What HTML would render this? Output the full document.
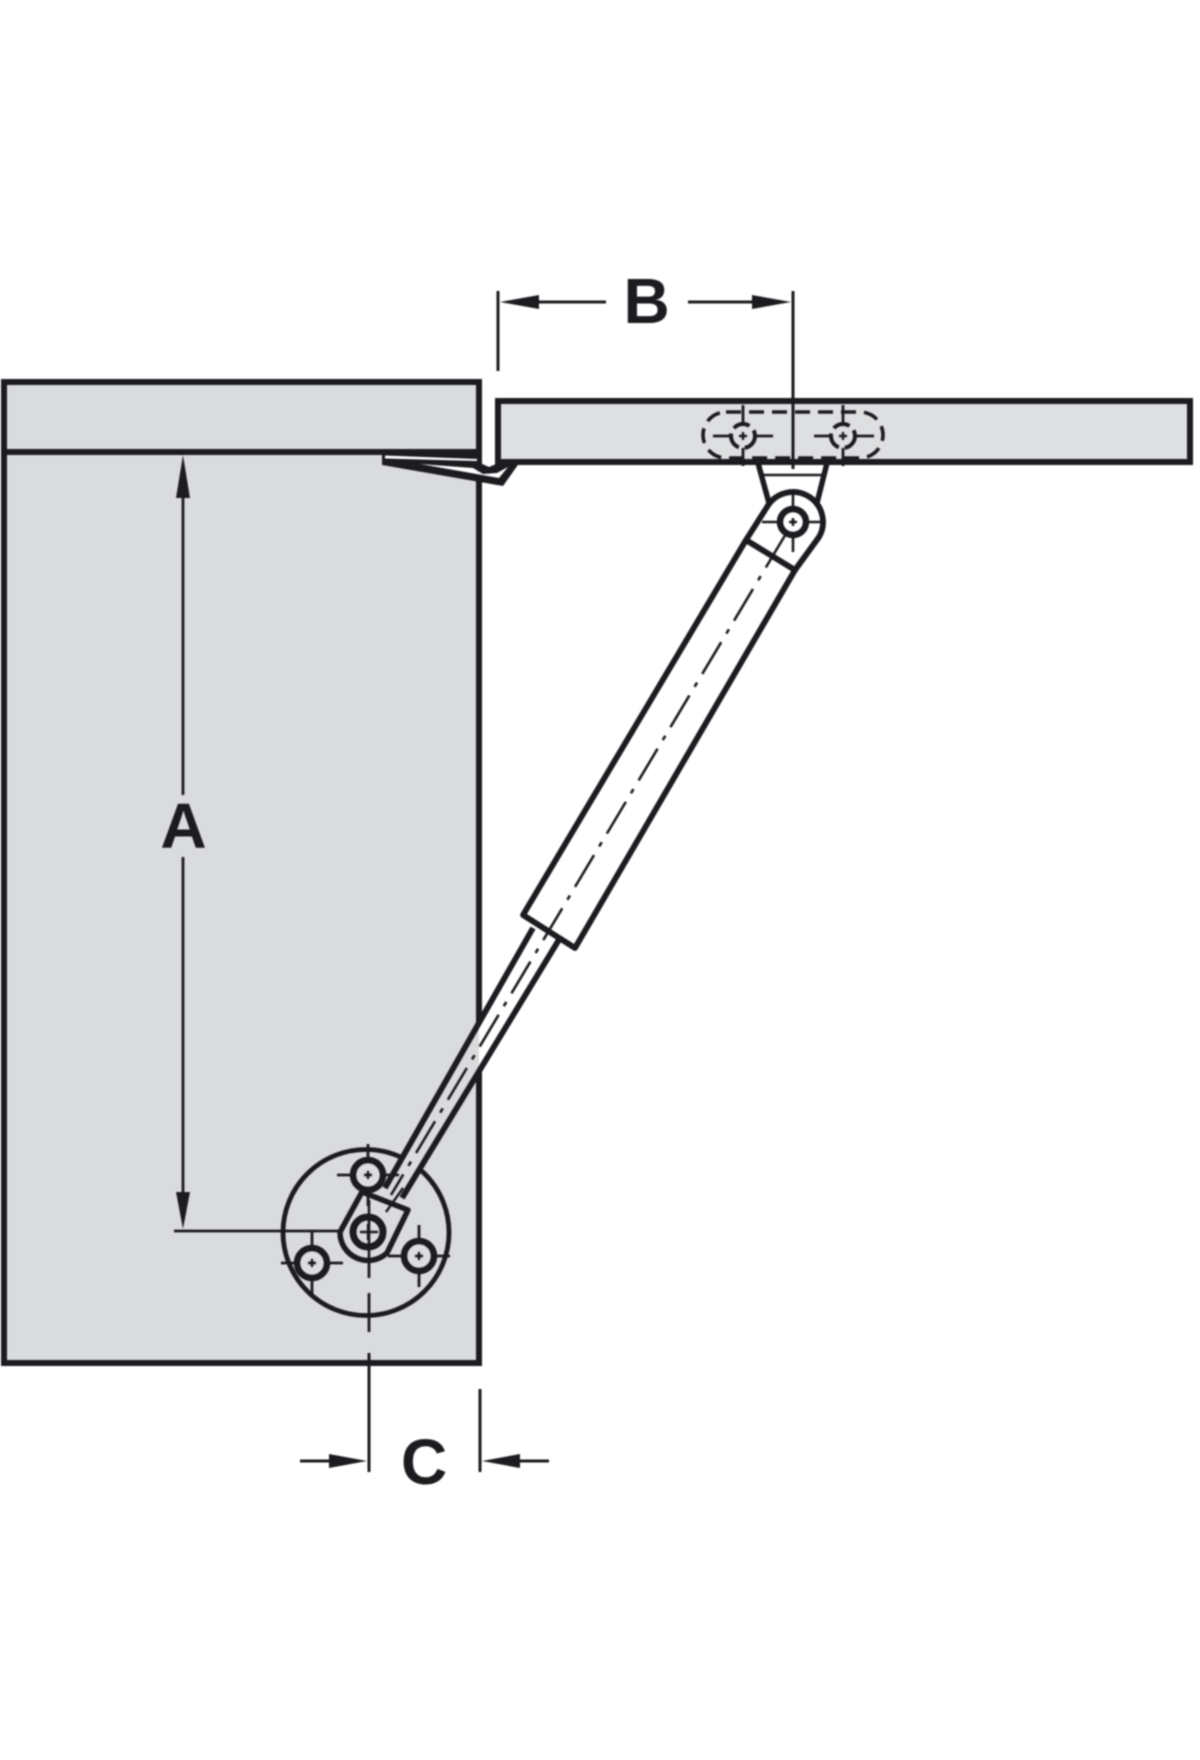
<!DOCTYPE html>
<html>
<head>
<meta charset="utf-8">
<style>
html,body{margin:0;padding:0;background:#fff;width:1200px;height:1760px;overflow:hidden}
svg{display:block;filter:blur(.7px)}
text{font-family:"Liberation Sans",sans-serif;font-weight:700;font-size:64px;fill:#1c1c20}
</style>
</head>
<body>
<svg width="1200" height="1760" viewBox="0 0 1200 1760" xmlns="http://www.w3.org/2000/svg">
<defs>
  <clipPath id="boxclip"><rect x="0" y="900" width="479" height="400"/></clipPath>
  <g id="hole">
    <path d="M-31 0H31M0 -31V31" stroke="#1c1c20" stroke-width="2.8" fill="none"/>
    <circle r="15" fill="#dcddde" stroke="#1c1c20" stroke-width="6.5"/>
    <path d="M-4 0H4M0 -4V4" stroke="#1c1c20" stroke-width="2.4"/>
    <circle r="2" fill="#1c1c20"/>
  </g>
</defs>

<!-- Cabinet -->
<rect x="4" y="382" width="475" height="981" fill="#dadbdd" stroke="#1c1c20" stroke-width="6"/>
<line x1="4" y1="452" x2="479" y2="452" stroke="#1c1c20" stroke-width="6"/>

<!-- Flap panel -->
<rect x="498" y="401" width="692" height="61" fill="#dedfe0" stroke="#1c1c20" stroke-width="6"/>

<!-- Hook -->
<path d="M382 453 L476 453 L480 463 L489 467 L496 464 L498 462 L520 462 L503 486 L382 465 Z" fill="#1c1c20"/>
<path d="M385 455.500 L477 459 L477 461 L385 458.500 Z" fill="#fff"/>
<path d="M420 464 L473 468 L483 474 L497 473 L508 467 L499 478 Z" fill="#fff"/>

<!-- Slot and holes in flap -->
<rect x="703" y="412" width="180" height="46" rx="23" ry="23" fill="none" stroke="#1c1c20" stroke-width="3.6" stroke-dasharray="15 8"/>
<g stroke="#1c1c20" fill="none">
  <path d="M713 436H773M743 405V466M814 436H874M843 405V466" stroke-width="2.8"/>
  <circle cx="743" cy="436" r="12" fill="#dedfe0" stroke-width="4" stroke-dasharray="17 6"/>
  <circle cx="843" cy="436" r="12" fill="#dedfe0" stroke-width="4" stroke-dasharray="17 6"/>
  <path d="M739 436H747M743 432V440M839 436H847M843 432V440" stroke-width="2.4"/>
</g>

<!-- Dimension B -->
<g stroke="#1c1c20" fill="none">
  <line x1="498" y1="291" x2="498" y2="371" stroke-width="3"/>
  <line x1="793" y1="291" x2="793" y2="469" stroke-width="3"/>
  <line x1="530" y1="302" x2="606" y2="302" stroke-width="3"/>
  <line x1="688" y1="302" x2="760" y2="302" stroke-width="3"/>
</g>
<path d="M500 302L539 295V309Z M791 302L752 295V309Z" fill="#1c1c20"/>
<text x="623.500" y="323">B</text>

<!-- Dimension A -->
<g stroke="#1c1c20" fill="none">
  <line x1="183" y1="490" x2="183" y2="795" stroke-width="2.8"/>
  <line x1="183" y1="857" x2="183" y2="1200" stroke-width="2.8"/>
  <line x1="174" y1="1231" x2="345" y2="1231" stroke-width="2.8"/>
</g>
<path d="M183 455L176 498H190Z M183 1229L176 1192H190Z" fill="#1c1c20"/>
<text x="183.500" y="848" text-anchor="middle">A</text>

<!-- Dimension C -->
<g stroke="#1c1c20" fill="none">
  <line x1="369" y1="1353" x2="369" y2="1472" stroke-width="3"/>
  <line x1="480" y1="1389" x2="480" y2="1472" stroke-width="3"/>
  <line x1="300" y1="1461" x2="335" y2="1461" stroke-width="3"/>
  <line x1="515" y1="1461" x2="549" y2="1461" stroke-width="3"/>
</g>
<path d="M367 1461L329 1454V1468Z M482 1461L520 1454V1468Z" fill="#1c1c20"/>
<text x="401" y="1484">C</text>

<!-- Mounting plate -->
<circle cx="366" cy="1232.500" r="83" fill="none" stroke="#1c1c20" stroke-width="4.800"/>
<path d="M369 1260V1278M369 1293V1332" stroke="#1c1c20" stroke-width="2.8" fill="none"/>
<use href="#hole" x="312" y="1263"/>
<use href="#hole" x="419" y="1256"/>

<!-- Flap bracket -->
<path d="M758 463L769 503M827 463L817 503" stroke="#1c1c20" stroke-width="5.500" fill="none"/>
<line x1="762" y1="475" x2="823" y2="475" stroke="#1c1c20" stroke-width="2.4"/>

<!-- Rod -->
<path d="M380 1197L533 928L560 938L402 1198Z" fill="#fff"/>
<path d="M380 1197L533 928L560 938L402 1198Z" fill="#dadbdd" clip-path="url(#boxclip)"/>
<path d="M385 1188L533 928M402 1198L560 938" stroke="#1c1c20" stroke-width="5.800" fill="none"/>

<!-- Cylinder -->
<path d="M746 540L523 915L575 948L795 570Z" fill="#fff" stroke="#1c1c20" stroke-width="5.800" stroke-linejoin="round"/>
<path d="M746 540L767 507A30 30 0 0 1 819 537L795 570Z" fill="#fff" stroke="#1c1c20" stroke-width="5.800" stroke-linejoin="round"/>

<!-- Centre line of the strut -->
<line x1="793" y1="522" x2="391" y2="1195" stroke="#1c1c20" stroke-width="2.6" stroke-dasharray="37 10 5 10" stroke-dashoffset="46"/>

<!-- Top pivot -->
<path d="M762 522H823M793 493V552" stroke="#1c1c20" stroke-width="2.6" fill="none"/>
<circle cx="793" cy="522" r="13" fill="#fff" stroke="#1c1c20" stroke-width="6.500"/>
<path d="M789 522H797M793 518V526" stroke="#1c1c20" stroke-width="2.4"/>
<circle cx="793" cy="522" r="2" fill="#1c1c20"/>

<!-- Rod end bracket -->
<path d="M362 1192L408 1210L387 1253A28 28 0 0 1 340 1232Z" fill="#dadbdd" stroke="#1c1c20" stroke-width="5.500" stroke-linejoin="round"/>
<path d="M403 1188L386 1212" stroke="#1c1c20" stroke-width="2.4" fill="none"/>
<path d="M369 1200V1258" stroke="#1c1c20" stroke-width="2.6"/>
<circle cx="368" cy="1232" r="15" fill="none" stroke="#1c1c20" stroke-width="7"/>
<path d="M360 1232H378M368 1224V1240" stroke="#1c1c20" stroke-width="2.4"/>
<use href="#hole" x="368" y="1175"/>
</svg>
</body>
</html>
